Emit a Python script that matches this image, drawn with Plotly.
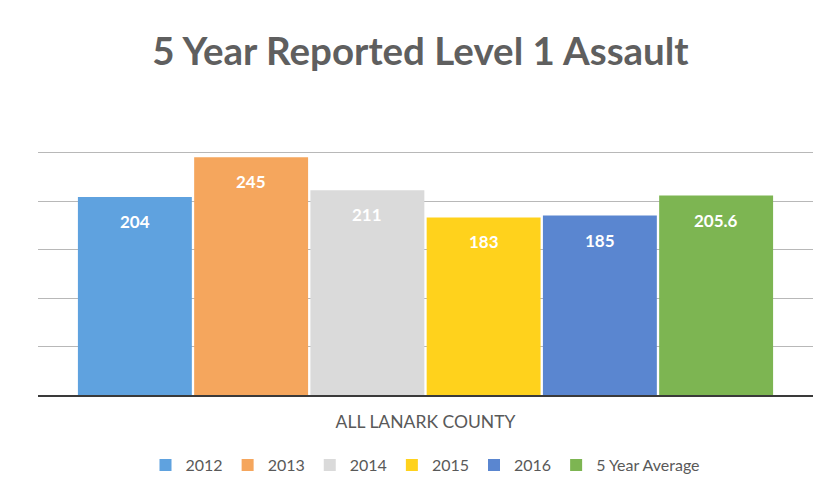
import plotly.graph_objects as go

# --- dados ---
categoria = ["ALL LANARK COUNTY"]
series = ["2012", "2013", "2014", "2015", "2016", "5 Year Average"]
valores = [204, 245, 211, 183, 185, 205.6]
rotulos = ["204", "245", "211", "183", "185", "205.6"]
cores = ["#5FA2DF", "#F5A65D", "#DADADA", "#FFD21C", "#5A86D0", "#7DB552"]

BARGAP = 0.1
n = len(series)
largura_grupo = 1 - BARGAP

fig = go.Figure()
for i, (nome, valor, rotulo, cor) in enumerate(zip(series, valores, rotulos, cores)):
    fig.add_trace(go.Bar(
        x=categoria,
        y=[valor],
        name=nome,
        marker=dict(color=cor, line=dict(width=0)),
    ))
    # rótulo de dados dentro da barra, um pouco abaixo do topo
    fig.add_annotation(
        x=-largura_grupo / 2 + largura_grupo / n * (i + 0.5),
        y=valor,
        xref="x", yref="y",
        text=f"<b>{rotulo}</b>",
        showarrow=False,
        yanchor="top",
        yshift=-12,
        font=dict(color="white", size=17, family="Lato"),
    )

# a página tem margem de 8px no body: figura reduzida para caber na janela
fig.update_layout(
    title=dict(
        text="<b>5 Year Reported Level 1 Assault</b>",
        x=0.5, xanchor="center", y=1 - 44 / 487, yanchor="middle",
        font=dict(size=38.5, color="#5F5F5F", family="Lato"),
    ),
    barmode="group",
    bargap=BARGAP,
    bargroupgap=0.02,
    width=825,
    height=487,
    margin=dict(l=30, r=20, t=96, b=100, autoexpand=False),
    paper_bgcolor="white",
    plot_bgcolor="white",
    font=dict(family="Lato", color="#595959"),
    xaxis=dict(
        showline=True, linecolor="#3A3A3A", linewidth=2,
        tickfont=dict(size=17.5, color="#595959"),
        ticks="", ticklen=0,
        ticklabelstandoff=10,
        automargin=False,
    ),
    yaxis=dict(
        range=[0, 300],
        dtick=50,
        showticklabels=False,
        showgrid=True, gridcolor="#B8B8B8", gridwidth=1,
        zeroline=False,
        automargin=False,
    ),
    legend=dict(
        orientation="h", x=0.5, xanchor="center",
        yref="container", y=1 - 457 / 487, yanchor="middle",
        font=dict(size=16, color="#595959"),
        itemwidth=30,
    ),
    showlegend=True,
)

fig.write_html("out.html")
